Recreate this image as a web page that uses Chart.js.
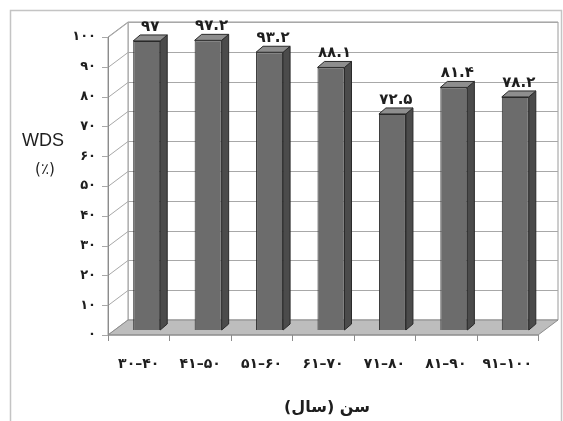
<!DOCTYPE html>
<html>
<head>
  <meta charset="UTF-8">
  <title>WDS by age</title>
  <script src="https://cdn.jsdelivr.net/npm/chart.js@4"></script>
  <style>
    * { margin: 0; padding: 0; }
    body { background: #fff; width: 563px; height: 421px; overflow: hidden; }
    canvas { display: block; }
  </style>
</head>
<body>
  <canvas id="chart" width="563" height="421"></canvas>
  <script>
    // data
    const ageGroups = ["۳۰–۴۰", "۴۱–۵۰", "۵۱–۶۰", "۶۱–۷۰", "۷۱–۸۰", "۸۱–۹۰", "۹۱–۱۰۰"];
    const wdsValues = [97, 97.2, 93.2, 88.1, 72.5, 81.4, 78.2];
    const yTickLabels = ["۰", "۱۰", "۲۰", "۳۰", "۴۰", "۵۰", "۶۰", "۷۰", "۸۰", "۹۰", "۱۰۰"];
    const yTitle = ["WDS", "(٪)"];
    const xTitle = "سن (سال)";

    const FONT = "'DejaVu Sans', sans-serif";
    const WALL = { dx: 20, dy: -15 };   // back wall offset
    const BAR_SHIFT = { dx: 8, dy: -5 }; // bars sit inside the depth
    const BAR_DEPTH = { dx: 7, dy: -6 };

    const toFa = (n) => String(n).replace(/[0-9]/g, (d) => "۰۱۲۳۴۵۶۷۸۹"[d]);

    function poly(ctx, pts, fill, stroke) {
      ctx.beginPath();
      ctx.moveTo(pts[0][0], pts[0][1]);
      for (let i = 1; i < pts.length; i++) ctx.lineTo(pts[i][0], pts[i][1]);
      ctx.closePath();
      if (fill) { ctx.fillStyle = fill; ctx.fill(); }
      if (stroke) { ctx.strokeStyle = stroke; ctx.stroke(); }
    }

    const box3d = {
      id: "box3d",
      beforeDraw(chart) {
        const { ctx } = chart;
        ctx.save();
        ctx.strokeStyle = "#c4c4c4";
        ctx.lineWidth = 1.5;
        ctx.strokeRect(10.5, 10.5, 551, 430);
        ctx.restore();
      },
      beforeDatasetsDraw(chart) {
        const { ctx, chartArea: a, scales } = chart;
        const y = scales.y;
        const { dx, dy } = WALL;
        ctx.save();
        ctx.lineWidth = 1;

        // back wall + side wall
        poly(ctx, [[a.left + dx, a.top + dy], [a.right + dx, a.top + dy], [a.right + dx, a.bottom + dy], [a.left + dx, a.bottom + dy]], "#fff", "#9a9a9a");
        poly(ctx, [[a.left, a.top], [a.left + dx, a.top + dy], [a.left + dx, a.bottom + dy], [a.left, a.bottom]], "#fff", "#9a9a9a");

        // gridlines
        ctx.strokeStyle = "#a8a8a8";
        y.ticks.forEach((t) => {
          const py = Math.round(y.getPixelForValue(t.value)) + 0.5;
          ctx.beginPath();
          ctx.moveTo(a.left - 6, py);
          ctx.lineTo(a.left, py);
          ctx.lineTo(a.left + dx, py + dy);
          ctx.lineTo(a.right + dx, py + dy);
          ctx.stroke();
        });

        // floor
        poly(ctx, [[a.left, a.bottom], [a.right, a.bottom], [a.right + dx, a.bottom + dy], [a.left + dx, a.bottom + dy]], "#bdbdbd", "#8c8c8c");

        // front axes
        ctx.strokeStyle = "#8c8c8c";
        ctx.beginPath();
        ctx.moveTo(a.left + 0.5, a.top);
        ctx.lineTo(a.left + 0.5, a.bottom);
        ctx.lineTo(a.right, a.bottom);
        ctx.stroke();
        const step = (a.right - a.left) / ageGroups.length;
        for (let i = 0; i <= ageGroups.length; i++) {
          const px = Math.round(a.left + i * step) + 0.5;
          ctx.beginPath();
          ctx.moveTo(px, a.bottom);
          ctx.lineTo(px, a.bottom + 6);
          ctx.stroke();
        }

        ctx.translate(BAR_SHIFT.dx, BAR_SHIFT.dy);
      },
      afterDatasetsDraw(chart) {
        const { ctx } = chart;
        const { dx, dy } = BAR_DEPTH;
        ctx.lineWidth = 1;
        chart.getDatasetMeta(0).data.forEach((bar, i) => {
          const l = bar.x - bar.width / 2, r = bar.x + bar.width / 2;
          poly(ctx, [[r, bar.y], [r + dx, bar.y + dy], [r + dx, bar.base + dy], [r, bar.base]], "#4b4b4b", "#2a2a2a");
          poly(ctx, [[l, bar.y], [l + dx, bar.y + dy], [r + dx, bar.y + dy], [r, bar.y]], "#8e8e8e", "#2a2a2a");
          ctx.fillStyle = "#1e1e1e";
          ctx.font = "bold 15px " + FONT;
          ctx.textAlign = "center";
          ctx.textBaseline = "alphabetic";
          ctx.fillText(toFa(wdsValues[i]), bar.x + dx / 2, bar.y + dy - 4);
        });
        ctx.restore();
      },
      afterDraw(chart) {
        const { ctx } = chart;
        ctx.save();
        ctx.fillStyle = "#1e1e1e";
        ctx.textAlign = "center";
        ctx.textBaseline = "middle";
        ctx.font = "18px 'Liberation Sans', sans-serif";
        ctx.fillText(yTitle[0], 43, 141);
        ctx.font = "15px " + FONT;
        ctx.fillText(yTitle[1], 45, 170);
        ctx.direction = "rtl";
        ctx.font = "bold 16px " + FONT;
        ctx.fillText(xTitle, 327, 408);
        ctx.restore();
      }
    };

    new Chart(document.getElementById("chart"), {
      type: "bar",
      data: {
        labels: ageGroups,
        datasets: [{
          data: wdsValues,
          backgroundColor: "#6c6c6c",
          borderColor: "#2a2a2a",
          borderWidth: 1,
          barPercentage: 0.44,
          categoryPercentage: 1
        }]
      },
      options: {
        responsive: false,
        animation: false,
        devicePixelRatio: 1,
        layout: { padding: { left: 0, top: 37, right: 25, bottom: 0 } },
        plugins: { legend: { display: false }, tooltip: { enabled: false } },
        scales: {
          x: {
            grid: { display: false, drawTicks: false },
            border: { display: false },
            ticks: { color: "#1e1e1e", font: { family: FONT, size: 14, weight: "bold" }, padding: 21, maxRotation: 0 },
            afterFit: (s) => { s.height = 86; }
          },
          y: {
            min: 0,
            max: 100,
            grid: { display: false, drawTicks: false },
            border: { display: false },
            ticks: {
              stepSize: 10,
              color: "#1e1e1e",
              font: { family: FONT, size: 13, weight: "bold" },
              padding: 12,
              callback: (v, i) => yTickLabels[i]
            },
            afterFit: (s) => { s.width = 108; }
          }
        }
      },
      plugins: [box3d]
    });
  </script>
</body>
</html>
